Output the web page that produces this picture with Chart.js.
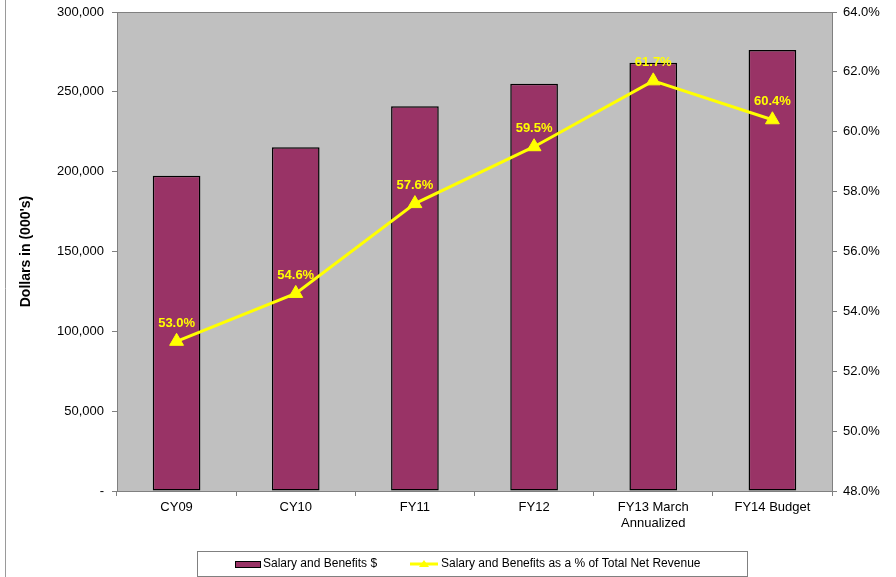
<!DOCTYPE html>
<html>
<head>
<meta charset="utf-8">
<script src="https://cdn.jsdelivr.net/npm/chart.js@4"></script>
<style>
  html, body { margin: 0; padding: 0; background: #fff; }
  #wrap { width: 896px; height: 577px; position: relative; }
</style>
</head>
<body>
<div id="wrap"><canvas id="salaryChart"></canvas></div>
<script>
const categories = [["CY09"], ["CY10"], ["FY11"], ["FY12"], ["FY13 March", "Annualized"], ["FY14 Budget"]];
const salaryDollars = [197500, 215300, 241000, 255000, 268200, 276200];
const salaryPct = [53.0, 54.6, 57.6, 59.5, 61.7, 60.4];
const barLabel = "Salary and Benefits $";
const lineLabel = "Salary and Benefits as a % of Total Net Revenue";

const FONT = "'Liberation Sans', Arial, sans-serif";
Chart.defaults.font.family = FONT;
Chart.defaults.font.size = 13;
Chart.defaults.color = "#000";

/* gray plot area, frame line, point labels, legend box */
const decor = {
  id: "decor",
  beforeDraw(chart) {
    const { ctx, chartArea: a } = chart;
    ctx.save();
    ctx.fillStyle = "#c0c0c0";
    ctx.fillRect(a.left, a.top, a.right - a.left, a.bottom - a.top);
    ctx.strokeStyle = "#808080";
    ctx.lineWidth = 1;
    ctx.strokeRect(a.left + 0.5, a.top + 0.5, a.right - a.left, a.bottom - a.top);
    // outer frame left edge
    ctx.strokeStyle = "#9a9a9a";
    ctx.beginPath();
    ctx.moveTo(5.5, 0);
    ctx.lineTo(5.5, 577);
    ctx.stroke();
    ctx.restore();
  },
  afterDraw(chart) {
    const { ctx } = chart;
    ctx.save();
    // value labels on the line
    const meta = chart.getDatasetMeta(1);
    ctx.font = "bold 13px " + FONT;
    ctx.fillStyle = "#ffff00";
    ctx.textAlign = "center";
    ctx.textBaseline = "middle";
    meta.data.forEach((pt, i) => {
      ctx.fillText(salaryPct[i].toFixed(1) + "%", pt.x, pt.y - 18);
    });
    // legend
    const lx = 197, ly = 551, lw = 550, lh = 25;
    ctx.fillStyle = "#fff";
    ctx.fillRect(lx, ly, lw, lh);
    ctx.strokeStyle = "#808080";
    ctx.strokeRect(lx + 0.5, ly + 0.5, lw, lh);
    const cy = ly + lh / 2 + 0.5;
    ctx.fillStyle = "#993366";
    ctx.fillRect(235, cy - 3, 25, 7);
    ctx.strokeStyle = "#000";
    ctx.strokeRect(235.5, cy - 2.5, 25, 6);
    ctx.font = "12px " + FONT;
    ctx.fillStyle = "#000";
    ctx.textAlign = "left";
    ctx.fillText(barLabel, 263, cy);
    ctx.strokeStyle = "#ffff00";
    ctx.lineWidth = 3;
    ctx.beginPath();
    ctx.moveTo(410, cy);
    ctx.lineTo(438, cy);
    ctx.stroke();
    ctx.fillStyle = "#ffff00";
    ctx.beginPath();
    ctx.moveTo(424, cy - 4);
    ctx.lineTo(429, cy + 3);
    ctx.lineTo(419, cy + 3);
    ctx.closePath();
    ctx.fill();
    ctx.fillStyle = "#000";
    ctx.fillText(lineLabel, 441, cy);
    ctx.restore();
  }
};

new Chart(document.getElementById("salaryChart"), {
  type: "bar",
  data: {
    labels: categories,
    datasets: [{
      type: "bar",
      label: barLabel,
      data: salaryDollars,
      backgroundColor: "#993366",
      borderColor: "#000",
      borderWidth: 1.5,
      borderSkipped: false,
      categoryPercentage: 1,
      barPercentage: 0.4,
      yAxisID: "y",
      order: 2
    }, {
      type: "line",
      label: lineLabel,
      data: salaryPct,
      borderColor: "#ffff00",
      backgroundColor: "#ffff00",
      borderWidth: 3,
      pointStyle: "triangle",
      pointRadius: 8,
      pointBorderWidth: 1,
      tension: 0,
      yAxisID: "y1",
      order: 1
    }]
  },
  options: {
    responsive: true,
    maintainAspectRatio: false,
    animation: false,
    layout: { padding: { top: 12, left: 18, right: 0, bottom: 0 } },
    plugins: {
      legend: { display: false },
      tooltip: { enabled: false }
    },
    scales: {
      x: {
        grid: { offset: true, drawOnChartArea: false, color: "#808080", tickLength: 5 },
        border: { color: "#808080" },
        ticks: { padding: 4, maxRotation: 0 },
        afterFit(s) { s.height = 86; s.paddingLeft = 0; s.paddingRight = 0; }
      },
      y: {
        position: "left",
        min: 0,
        max: 300000,
        ticks: {
          stepSize: 50000,
          padding: 8,
          callback: v => v === 0 ? "-" : v.toLocaleString("en-US")
        },
        grid: { drawOnChartArea: false, color: "#808080", tickLength: 5 },
        border: { color: "#808080" },
        title: { display: true, text: "Dollars in (000's)", font: { weight: "bold", size: 14 }, padding: { top: 0, bottom: 0 } },
        afterFit(s) { s.width = 99; s.paddingTop = 0; s.paddingBottom = 0; }
      },
      y1: {
        position: "right",
        min: 48,
        max: 64,
        ticks: {
          stepSize: 2,
          padding: 6,
          callback: v => v.toFixed(1) + "%"
        },
        grid: { drawOnChartArea: false, color: "#808080", tickLength: 5 },
        border: { color: "#808080" },
        afterFit(s) { s.width = 64; s.paddingTop = 0; s.paddingBottom = 0; }
      }
    }
  },
  plugins: [decor]
});
</script>
</body>
</html>
